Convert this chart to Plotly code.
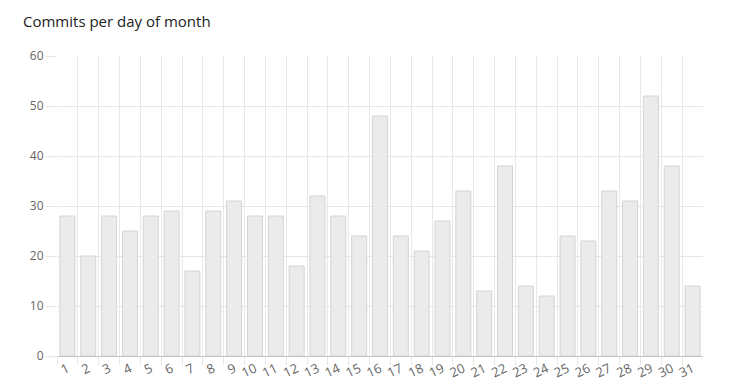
import plotly.graph_objects as go

days = list(range(1, 32))
day_labels = [str(d) for d in days]
commits = [28, 20, 28, 25, 28, 29, 17, 29, 31, 28, 28, 18, 32, 28, 24, 48,
           24, 21, 27, 33, 13, 38, 14, 12, 24, 23, 33, 31, 52, 38, 14]

fig = go.Figure(go.Bar(
    x=days, y=commits,
    marker=dict(color="#ebebeb", line=dict(color="#d4d4d4", width=1)),
    hoverinfo="x+y",
))

W, H = 737, 391
fig.update_layout(
    width=W, height=H,
    margin=dict(l=57, r=34, t=56, b=35),
    paper_bgcolor="white", plot_bgcolor="white",
    bargap=0.28,
    showlegend=False,
    title=dict(text="Commits per day of month", xref="container", yref="container",
               x=23 / W, xanchor="left", y=1 - 22 / H, yanchor="middle",
               font=dict(family="Open Sans, sans-serif", size=15, color="#222222")),
    font=dict(family="Liberation Sans, Arial, sans-serif", size=12, color="#666666"),
)
fig.update_xaxes(
    range=[0.5, 31.5], automargin=False,
    tickmode="array", tickvals=days, ticktext=day_labels,
    tickangle=-25,
    showgrid=False, ticks="", zeroline=False, showline=False,
    ticklabelstandoff=2,
    minor=dict(tickmode="array", tickvals=[d - 0.5 for d in days],
               showgrid=True, gridcolor="#e8e8e8", gridwidth=1,
               ticks="outside", ticklen=8, tickcolor="#e8e8e8"),
    tickfont=dict(family="Open Sans, sans-serif", size=13, color="#666666"),
)
fig.update_yaxes(
    range=[0, 60], dtick=10, tick0=0, automargin=False,
    showgrid=True, gridcolor="#e6e6e6", gridwidth=1,
    ticks="outside", ticklen=10, tickcolor="#e6e6e6",
    zeroline=True, zerolinecolor="#c4c4c4", zerolinewidth=1,
    showline=False,
    tickfont=dict(family="Open Sans, sans-serif", size=12, color="#666666"),
)

fig.write_html("out.html")
